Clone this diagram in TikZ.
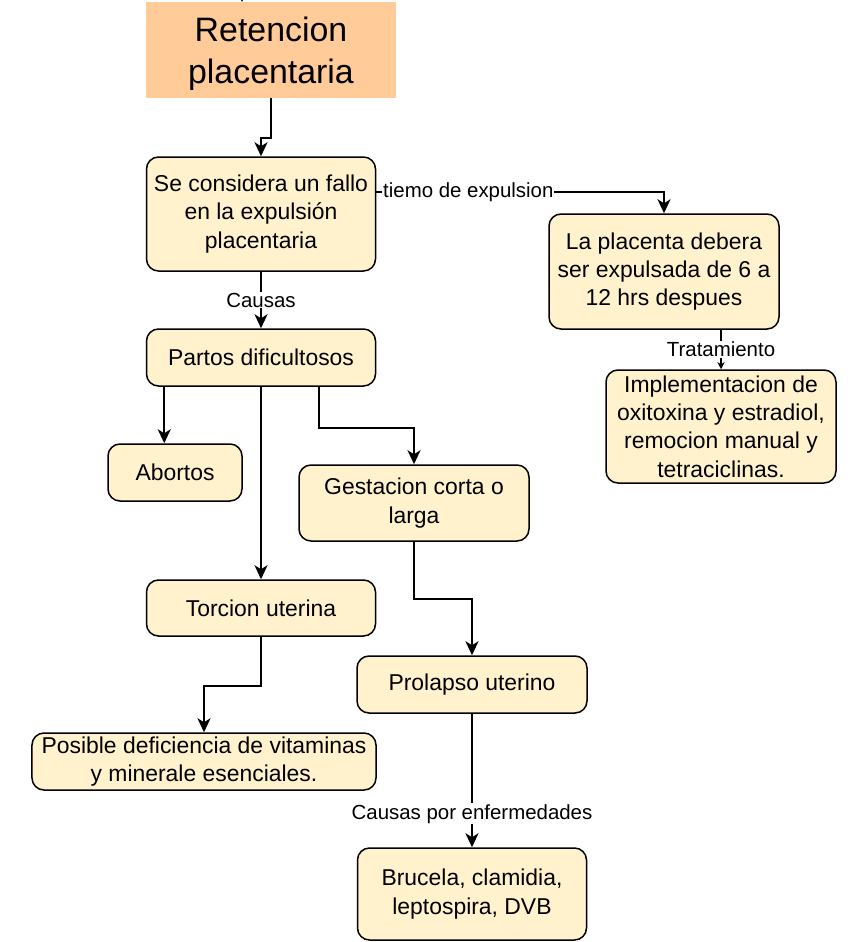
\documentclass[tikz,border=0pt]{standalone}
\usepackage{fontspec}
\setmainfont{Liberation Sans}
\usetikzlibrary{arrows.meta,calc}
\definecolor{boxfill}{HTML}{FFF2CC}
\definecolor{peach}{HTML}{FFCC99}
\tikzset{
  box/.style={draw=black, line width=1.5bp, fill=boxfill, rounded corners=12bp, align=center,
    inner sep=2pt, font=\fontsize{23}{28.5}\selectfont},
  titlebox/.style={fill=peach, inner sep=0pt},
  titletext/.style={align=center, inner sep=0pt, font=\fontsize{34}{42}\selectfont},
  arr/.style={line width=2bp, -{Stealth[length=14bp,width=13bp,inset=4bp]}},
  arrsmall/.style={line width=2bp, -{Stealth[length=7bp,width=7bp,inset=2bp]}},
  lbl/.style={fill=white, inner sep=1pt, font=\fontsize{20.5}{24}\selectfont},
}
\begin{document}
\begin{tikzpicture}[x=1bp,y=-1bp]
\useasboundingbox (0,0) rectangle (858,942);
\node[titlebox, minimum width=250bp, minimum height=96bp] (ret) at (271,50) {};
\node[titletext] (rettext) at (271,54) {Retencion\\placentaria};
\node[box, minimum width=229bp, minimum height=114bp] (se) at (261,214) {Se considera un fallo\\en la expulsión\\placentaria};
\node[box, minimum width=230bp, minimum height=115bp] (pla) at (664,271.5) {La placenta debera\\ser expulsada de 6 a\\12 hrs despues};
\node[box, minimum width=230bp, minimum height=113bp] (impl) at (721,426.5) {Implementacion de\\oxitoxina y estradiol,\\remocion manual y\\tetraciclinas.};
\node[box, minimum width=229bp, minimum height=57bp] (partos) at (261,357.5) {Partos dificultosos};
\node[box, minimum width=134bp, minimum height=57bp] (abortos) at (175,472.5) {Abortos};
\node[box, minimum width=230bp, minimum height=76bp] (gest) at (414,503) {Gestacion corta o\\larga};
\node[box, minimum width=229bp, minimum height=56bp] (torc) at (261,608) {Torcion uterina};
\node[box, minimum width=230bp, minimum height=57bp] (prol) at (472,684.5) {Prolapso uterino};
\node[box, minimum width=344bp, minimum height=57bp] (pos) at (204,761.5) {Posible deficiencia de vitaminas\\y minerale esenciales.};
\node[box, minimum width=229bp, minimum height=92bp] (bru) at (472,894) {Brucela, clamidia,\\leptospira, DVB};

\coordinate (topin) at (242,-20);
\draw[arrsmall] (topin) -- (topin |- ret.north);
\draw[arr] (ret.south) -- ++(0,40) -| (se.north);
\draw[arr] ($(se.east)+(0,-22)$) coordinate (s1) -- node[lbl, pos=0.32]{tiemo de expulsion} (s1 -| pla.north) -- (pla.north);
\draw[arr] (se.south) -- node[lbl]{Causas} (partos.north);
\draw[arr] ($(partos.south west)+(18.5,0)$) coordinate (a1) -- (a1 |- abortos.north);
\draw[arr] (partos.south) -- (torc.north);
\draw[arr] ($(partos.south east)+(-57.5,0)$) -- ++(0,41) -| (gest.north);
\draw[arr] (gest.south) -- ++(0,57) -| (prol.north);
\draw[arr] (torc.south) -- ++(0,49) -| (pos.north);
\draw[arr] (prol.south) -- node[lbl, pos=0.75]{Causas por enfermedades} (bru.north);
\draw[arrsmall] (impl.north |- pla.south) -- node[lbl]{Tratamiento} (impl.north);
\end{tikzpicture}
\end{document}
